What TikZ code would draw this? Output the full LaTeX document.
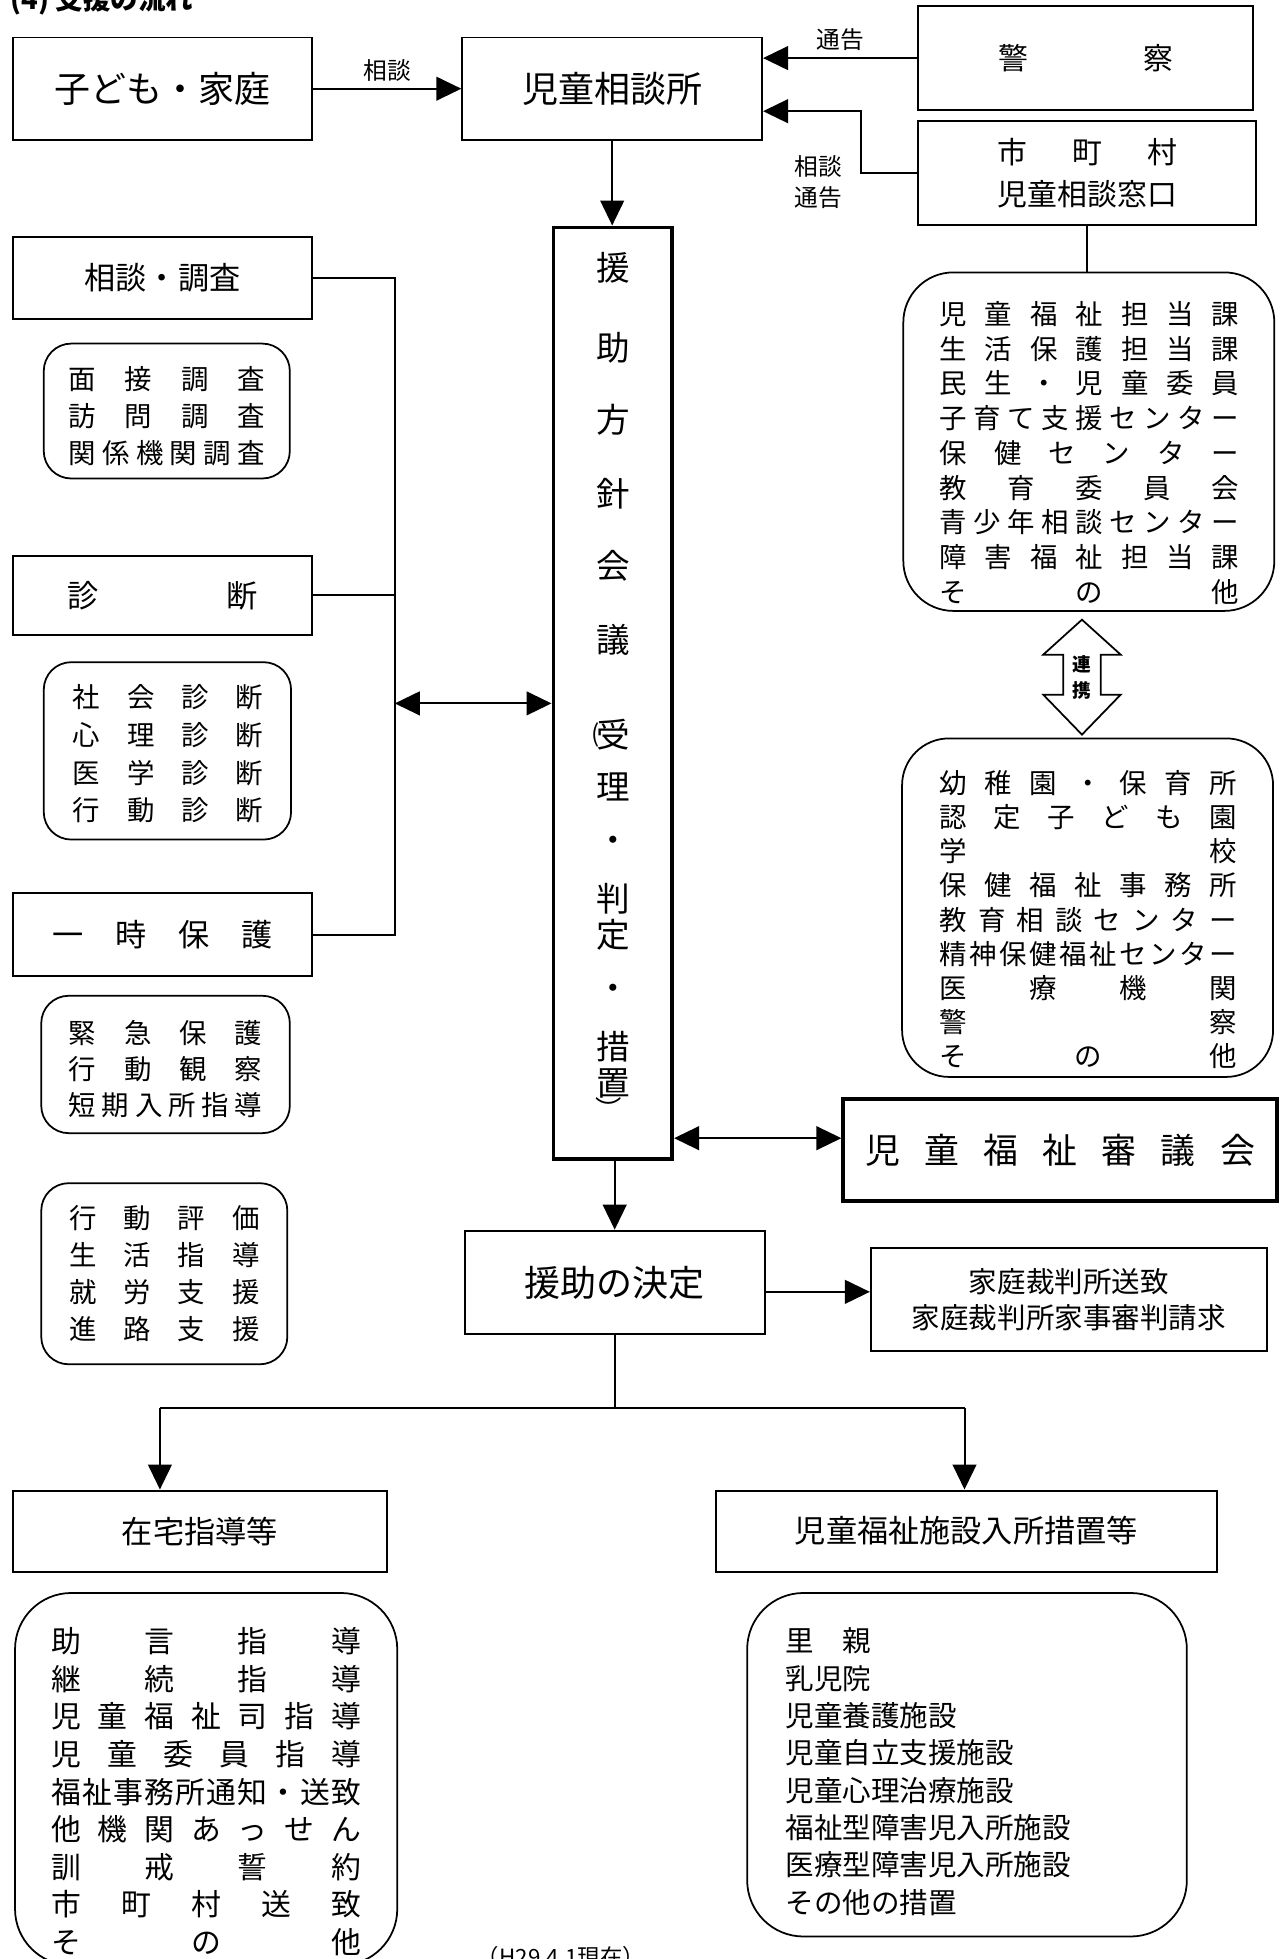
\documentclass[tikz,border=0pt]{standalone}
\usepackage{fontspec}
\setmainfont{Noto Sans CJK JP}
\usetikzlibrary{arrows.meta}

\newcommand\fsz[2]{\fontsize{#1pt}{#2pt}\selectfont}
% spread one line of characters over a given width
\def\jspread#1#2\relax{#1\if\relax\detokenize{#2}\relax\else\hfill\jspread#2\relax\fi}
\newcommand\jw[2]{\makebox[#1]{\jspread#2\relax}}

\begin{document}
\begin{tikzpicture}[x=0.02cm,y=-0.02cm,line width=0.9pt,
    box/.style={draw,inner sep=0pt,align=center},
    thickbox/.style={box,line width=1.8pt},
    rbox/.style={draw,line width=0.8pt,rounded corners=#1,inner sep=0pt},
    rbox/.default=0.44cm,
    list/.style={inner sep=0pt,align=center},
    lbl/.style={font=\fsz{10.8}{14},inner sep=1pt},
    conftext/.style={font=\fsz{15.3}{16},inner sep=0pt},
    arr/.style={-{Triangle[length=4mm,width=3.8mm]}},
    dbl/.style={{Triangle[length=4mm,width=3.8mm]}-{Triangle[length=4mm,width=3.8mm]}}]
  \useasboundingbox (0,0) rectangle (1024,1568);

  % title, cut at the top edge
  \node[anchor=base west,inner sep=0pt,font=\bfseries\fsz{12.5}{14}] (title) at (8,8) {(4) 支援の流れ};

  % top row
  \node[box,minimum width=4.8cm,minimum height=1.64cm,font=\fsz{16.4}{20}] (kid) at (130,71) {子ども・家庭};
  \node[box,minimum width=4.8cm,minimum height=1.64cm,font=\fsz{16.4}{20}] (cons) at (490,71) {児童相談所};
  \node[box,minimum width=5.36cm,minimum height=1.66cm,font=\fsz{13.6}{16}] (police) at (869,46.5) {\jw{2.8cm}{警察}};
  \node[box,minimum width=5.4cm,minimum height=1.66cm,font=\fsz{13.6}{19.3}] (city) at (870,138.5) {\jw{2.88cm}{市町村}\\\jw{2.88cm}{児童相談窓口}};
  \node[lbl,align=center,font=\fsz{10.8}{14.2}] (lcity) at (655,146) {相談\\通告};

  % conference
  \node[thickbox,minimum width=1.9cm,minimum height=14.92cm] (conf) at (490.5,555) {};
  \foreach \ch/\yy [count=\i] in {援/214,助/278,方/336,針/395,会/453,議/512,受/588,理/630,・/676,判/719,定/748,・/794,措/838,置/867}
    \node[conftext] (conf\i) at (491,\yy) {\ch};
  \node[conftext,font=\fsz{11}{12}] (popen) at (477,588) {(};
  \node[conftext,font=\fsz{12}{12}] (pclose) at (487,887) {︶};

  % left column
  \node[box,minimum width=4.8cm,minimum height=1.3cm,font=\fsz{14.2}{16}] (survey) at (130,222.5) {相談・調査};
  \node[rbox,minimum width=3.94cm,minimum height=2.16cm] (rsurvey) at (133.5,329) {};
  \node[list,font=\fsz{12.5}{17}] (tsurvey) at (133.5,333) {\jw{3.14cm}{面接調査}\\\jw{3.14cm}{訪問調査}\\\jw{3.14cm}{関係機関調査}};

  \node[box,minimum width=4.8cm,minimum height=1.26cm,font=\fsz{14.2}{16}] (diag) at (130,476.5) {\jw{3.04cm}{診断}};
  \node[rbox,minimum width=3.96cm,minimum height=2.84cm] (rdiag) at (134,601) {};
  \node[list,font=\fsz{12.5}{17.2}] (tdiag) at (134.5,603.5) {\jw{3.05cm}{社会診断}\\\jw{3.05cm}{心理診断}\\\jw{3.05cm}{医学診断}\\\jw{3.05cm}{行動診断}};

  \node[box,minimum width=4.8cm,minimum height=1.32cm,font=\fsz{14.2}{16}] (prot) at (130,748) {\jw{3.52cm}{一時保護}};
  \node[rbox,minimum width=3.98cm,minimum height=2.2cm] (rprot) at (132.5,852) {};
  \node[list,font=\fsz{12.5}{16.4}] (tprot) at (132.5,856) {\jw{3.1cm}{緊急保護}\\\jw{3.1cm}{行動観察}\\\jw{3.1cm}{短期入所指導}};

  \node[rbox,minimum width=3.94cm,minimum height=2.9cm] (rsupport) at (131.5,1019.5) {};
  \node[list,font=\fsz{12.5}{16.8}] (tsupport) at (131.5,1019.5) {\jw{3.05cm}{行動評価}\\\jw{3.05cm}{生活指導}\\\jw{3.05cm}{就労支援}\\\jw{3.05cm}{進路支援}};

  % right column
  \node[rbox=0.8cm,minimum width=5.94cm,minimum height=5.42cm] (rcity) at (871.5,353.5) {};
  \node[list,font=\fsz{12.5}{15.8}] (tcity) at (872,362.5) {\jw{4.8cm}{児童福祉担当課}\\\jw{4.8cm}{生活保護担当課}\\\jw{4.8cm}{民生・児童委員}\\
    \jw{4.8cm}{子育て支援センター}\\\jw{4.8cm}{保健センター}\\\jw{4.8cm}{教育委員会}\\
    \jw{4.8cm}{青少年相談センター}\\\jw{4.8cm}{障害福祉担当課}\\\jw{4.8cm}{その他}};

  \draw[line width=0.8pt] (866,496) -- (897,524) -- (881,524) -- (881,556) -- (897,556) -- (866,588)
    -- (835,556) -- (851,556) -- (851,524) -- (835,524) -- cycle;
  \node[list,font=\bfseries\fsz{8.5}{11.9}] (link) at (866,542.5) {連\\携};

  \node[rbox=0.75cm,minimum width=5.94cm,minimum height=5.42cm] (rschool) at (870.5,726.5) {};
  \node[list,font=\fsz{12.5}{15.6}] (tschool) at (871,736) {\jw{4.76cm}{幼稚園・保育所}\\\jw{4.76cm}{認定子ども園}\\\jw{4.76cm}{学校}\\
    \jw{4.76cm}{保健福祉事務所}\\\jw{4.76cm}{教育相談センター}\\\jw{4.76cm}{精神保健福祉センター}\\
    \jw{4.76cm}{医療機関}\\\jw{4.76cm}{警察}\\\jw{4.76cm}{その他}};

  \node[thickbox,minimum width=6.94cm,minimum height=1.64cm,font=\fsz{15.9}{18}] (council) at (848.5,920.5) {\jw{6.24cm}{児童福祉審議会}};

  % decision and after
  \node[box,minimum width=4.8cm,minimum height=1.66cm,font=\fsz{16.4}{20}] (decide) at (492,1026.5) {援助の決定};
  \node[box,minimum width=6.34cm,minimum height=1.66cm,font=\fsz{13}{16.4}] (court) at (855.5,1040) {家庭裁判所送致\\家庭裁判所家事審判請求};
  \node[box,minimum width=6cm,minimum height=1.3cm,font=\fsz{14.2}{16}] (home) at (160,1225.5) {在宅指導等};
  \node[box,minimum width=8.02cm,minimum height=1.3cm,font=\fsz{14.2}{16}] (facility) at (773.5,1225.5) {児童福祉施設入所措置等};

  \node[rbox=0.9cm,minimum width=6.12cm,minimum height=5.96cm] (rhome) at (165,1424) {};
  \node[list,font=\fsz{13.6}{17.1}] (thome) at (165,1434) {\jw{4.96cm}{助言指導}\\\jw{4.96cm}{継続指導}\\\jw{4.96cm}{児童福祉司指導}\\
    \jw{4.96cm}{児童委員指導}\\\jw{4.96cm}{福祉事務所通知・送致}\\\jw{4.96cm}{他機関あっせん}\\
    \jw{4.96cm}{訓戒誓約}\\\jw{4.96cm}{市町村送致}\\\jw{4.96cm}{その他}};

  \node[rbox=0.9cm,minimum width=7.04cm,minimum height=5.5cm] (rfacility) at (774,1412.5) {};
  \node[list,align=left,anchor=west,font=\fsz{13}{17}] (tfacility) at (628,1418) {里　親\\乳児院\\児童養護施設\\児童自立支援施設\\
    児童心理治療施設\\福祉型障害児入所施設\\医療型障害児入所施設\\その他の措置};

  \node[inner sep=0pt,font=\fsz{10.2}{12}] (asof) at (449,1566) {（H29.4.1現在）};

  % connectors
  \coordinate (cbend) at (689,89);
  \coordinate (brk) at (316,563);
  \coordinate (cncl) at (600,911);
  \coordinate (crt) at (650,1034);
  \coordinate (split) at (492,1127);
  \coordinate (sl) at (128,1127);
  \coordinate (sr) at (772,1127);

  \draw[arr] (kid) -- (cons) node[lbl,midway,above=2pt] {相談};
  \draw[arr] (police.west) -- (police.west -| cons.east) node[lbl,midway,above=2pt] {通告};
  \draw[arr] (city.west) -| (cbend) -- (cbend -| cons.east);
  \draw (city.south) -- (city.south |- rcity.north);
  \draw[arr] (cons.south) -- (cons.south |- conf.north);

  \draw (survey.east) -| (brk) |- (prot.east);
  \draw (diag.east) -- (diag.east -| brk);
  \draw[dbl] (brk) -- (brk -| conf.west);
  \draw[dbl] (cncl -| conf.east) -- (cncl -| council.west);

  \draw[arr] (decide.north |- conf.south) -- (decide.north);
  \draw[arr] (crt -| decide.east) -- (crt -| court.west);
  \draw (decide.south) -- (split);
  \draw (sl) -- (sr);
  \draw[arr] (sl) -- (sl |- home.north);
  \draw[arr] (sr) -- (sr |- facility.north);
\end{tikzpicture}
\end{document}
